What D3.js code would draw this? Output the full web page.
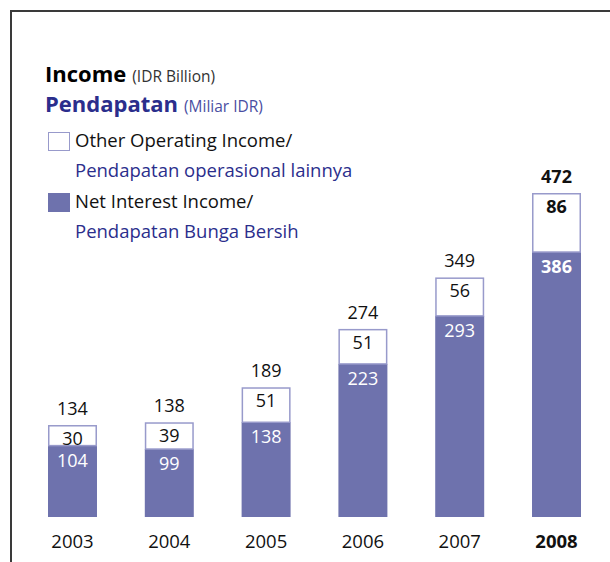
<!DOCTYPE html>
<html><head><meta charset="utf-8">
<script src="https://cdn.jsdelivr.net/npm/d3@7"></script>
<style>
html,body{margin:0;padding:0;background:#fff;}
svg{display:block;font-family:"Open Sans",sans-serif;}
</style></head>
<body>
<svg id="c" width="610" height="562"></svg>
<script>
const years = ["2003","2004","2005","2006","2007","2008"];
const netInterest = [104, 99, 138, 223, 293, 386];
const otherOperating = [30, 39, 51, 51, 56, 86];
const totals = [134, 138, 189, 274, 349, 472];

const FILL = "#6e72ad", STROKE = "#989acb", BLUE = "#2b2e8c";
const svg = d3.select("#c");

// frame
svg.append("path").attr("d","M11,562 V11 H610").attr("fill","none").attr("stroke","#3a3a3a").attr("stroke-width",2);

const x = d3.scaleBand().domain(years).range([48, 581]).paddingInner(0.494).paddingOuter(0);
const y = d3.scaleLinear().domain([0, 472]).range([517, 193]);

// title
const t1 = svg.append("text").attr("x",45).attr("y",82);
t1.append("tspan").attr("font-weight","bold").attr("font-size",22).attr("fill","#000").text("Income");
t1.append("tspan").attr("font-size",15.5).attr("fill","#333").attr("dx",6).text("(IDR Billion)");
const t2 = svg.append("text").attr("x",45).attr("y",112);
t2.append("tspan").attr("font-weight","bold").attr("font-size",22).attr("fill",BLUE).text("Pendapatan");
t2.append("tspan").attr("font-size",15.5).attr("fill","#4a4ea2").attr("dx",6).text("(Miliar IDR)");

// legend
const legend = [
  {fill:"#fff", l1:"Other Operating Income/", l2:"Pendapatan operasional lainnya", y:132, b1:147, b2:177},
  {fill:FILL, l1:"Net Interest Income/", l2:"Pendapatan Bunga Bersih", y:193, b1:208, b2:238}
];
legend.forEach(d=>{
  svg.append("rect").attr("x",48.5).attr("y",d.y+0.5).attr("width",21).attr("height",18)
    .attr("fill",d.fill).attr("stroke",d.fill==="#fff"?STROKE:FILL).attr("stroke-width",1);
  svg.append("text").attr("x",75).attr("y",d.b1).attr("font-size",18.5).attr("fill","#111").text(d.l1);
  svg.append("text").attr("x",75).attr("y",d.b2).attr("font-size",18.5).attr("fill",BLUE).text(d.l2);
});

const data = years.map((yr,i)=>({yr, a:netInterest[i], b:otherOperating[i], t:totals[i], bold: yr==="2008"}));

const g = svg.append("g");
// bottom segments
g.selectAll("rect.ni").data(data).join("rect").attr("class","ni")
  .attr("x",d=>x(d.yr)).attr("width",x.bandwidth())
  .attr("y",d=>y(d.a)).attr("height",d=>y(0)-y(d.a))
  .attr("fill",FILL);
// top segments
g.selectAll("rect.oo").data(data).join("rect").attr("class","oo")
  .attr("x",d=>x(d.yr)+0.75).attr("width",x.bandwidth()-1.5)
  .attr("y",d=>y(d.a+d.b)+0.75).attr("height",d=>y(d.a)-y(d.a+d.b)-0.75)
  .attr("fill","#fff").attr("stroke",STROKE).attr("stroke-width",1.5);

const cx = d=>x(d.yr)+x.bandwidth()/2;
const FS = 18;
// totals
g.selectAll("text.tot").data(data).join("text").attr("class","tot")
  .attr("x",cx).attr("y",d=>y(d.t)-10).attr("text-anchor","middle")
  .attr("font-size",FS).attr("font-weight",d=>d.bold?"bold":"normal").attr("fill","#111")
  .text(d=>d.t);
g.selectAll("text.oov").data(data).join("text").attr("class","oov")
  .attr("x",cx).attr("y",d=>y(d.a+d.b)+20).attr("text-anchor","middle")
  .attr("font-size",FS).attr("font-weight",d=>d.bold?"bold":"normal").attr("fill","#111")
  .text(d=>d.b);
g.selectAll("text.niv").data(data).join("text").attr("class","niv")
  .attr("x",cx).attr("y",d=>y(d.a)+21).attr("text-anchor","middle")
  .attr("font-size",FS).attr("font-weight",d=>d.bold?"bold":"normal").attr("fill","#fff")
  .text(d=>d.a);

// x axis labels
const ax = svg.append("g").attr("transform","translate(0,517)")
  .call(d3.axisBottom(x).tickSize(0).tickPadding(18));
ax.select(".domain").remove();
ax.selectAll("text").attr("font-size",18.5).attr("fill","#111")
  .attr("font-family","'Open Sans',sans-serif")
  .attr("font-weight",d=>d==="2008"?"bold":"normal");
</script>
</body></html>
